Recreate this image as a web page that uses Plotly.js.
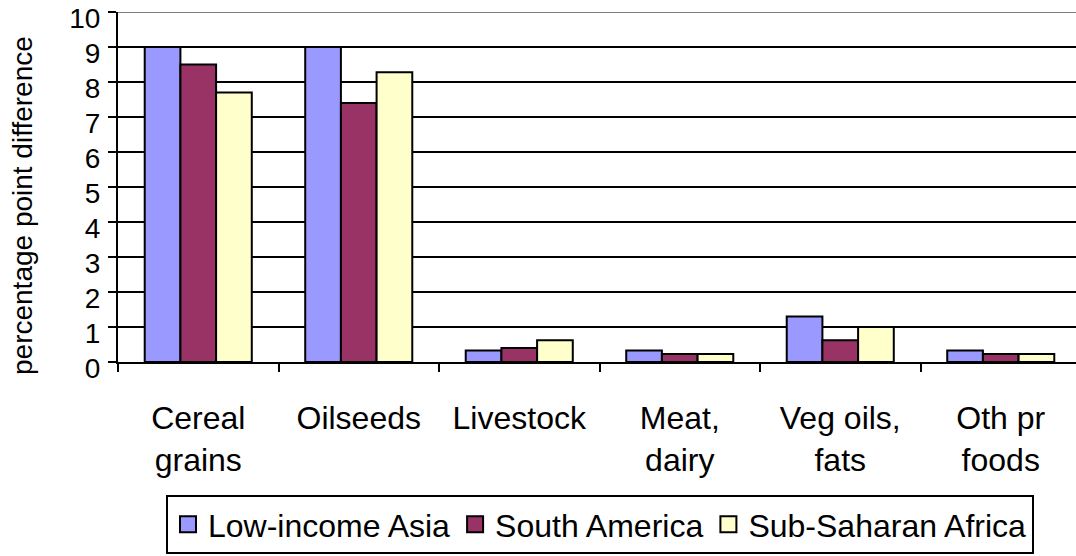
<!DOCTYPE html>
<html>
<head>
<meta charset="utf-8">
<script src="https://cdn.plot.ly/plotly-3.0.1.min.js"></script>
<style>
  html, body { margin: 0; padding: 0; background: #ffffff; }
  #chart { width: 1076px; height: 556px; }
</style>
</head>
<body>
<div id="chart"></div>
<script>
// ---- data ----
const categories = ["Cereal<br>grains", "Oilseeds", "Livestock", "Meat,<br>dairy", "Veg oils,<br>fats", "Oth pr<br>foods"];
const seriesNames = ["Low-income Asia", "South America", "Sub-Saharan Africa"];
const lowIncomeAsia = [9.0, 9.0, 0.33, 0.33, 1.3, 0.33];
const southAmerica = [8.5, 7.4, 0.4, 0.23, 0.62, 0.23];
const subSaharanAfrica = [7.7, 8.28, 0.62, 0.23, 1.0, 0.23];
const yTicks = [0, 1, 2, 3, 4, 5, 6, 7, 8, 9, 10];
const yTitle = "percentage point difference";

const seriesValues = [lowIncomeAsia, southAmerica, subSaharanAfrica];
const seriesColors = ["#9999FF", "#993366", "#FFFFCC"];
const FONT = "Liberation Sans, Arial, sans-serif";

const idx = categories.map((c, i) => i);
const traces = seriesNames.map((name, k) => ({
  type: "bar",
  name: name,
  x: idx,
  y: seriesValues[k],
  marker: { color: seriesColors[k], line: { color: "#000000", width: 2 } },
  showlegend: false,
  hoverinfo: "x+y+name"
}));

// legend entries (square swatches like the original)
seriesNames.forEach((name, k) => {
  traces.push({
    type: "scatter", mode: "markers", name: name,
    x: [null], y: [null],
    marker: { symbol: "square", size: 16, color: seriesColors[k], line: { color: "#000000", width: 2 } },
    showlegend: true, hoverinfo: "skip"
  });
});

// invisible trace to activate the boundary-tick axis
traces.push({ type: "scatter", x: [0], y: [0], xaxis: "x2", yaxis: "y",
  mode: "markers", marker: { opacity: 0 }, showlegend: false, hoverinfo: "skip" });

const layout = {
  width: 1076,
  height: 556,
  margin: { l: 118, r: 0, t: 12, b: 194, pad: 0 },
  paper_bgcolor: "#ffffff",
  plot_bgcolor: "#ffffff",
  font: { family: FONT, color: "#000000" },
  barmode: "group",
  bargap: 0.333,
  bargroupgap: 0,
  showlegend: true,
  legend: {
    orientation: "h",
    x: 0.0501, xanchor: "left",
    y: -0.5486, yanchor: "bottom",
    bgcolor: "#ffffff",
    bordercolor: "#000000",
    borderwidth: 2,
    itemsizing: "trace",
    font: { family: FONT, size: 32, color: "#000000" },
    traceorder: "normal"
  },
  xaxis: {
    type: "linear",
    range: [-0.5, 5.4688],
    tickmode: "array",
    tickvals: idx,
    ticktext: categories,
    ticks: "",
    showgrid: false,
    zeroline: false,
    showline: true,
    linecolor: "#000000",
    linewidth: 2,
    tickfont: { family: FONT, size: 32, color: "#000000" },
    ticklabelstandoff: 27,
    fixedrange: true
  },
  xaxis2: {
    overlaying: "x",
    matches: "x",
    type: "linear",
    range: [-0.5, 5.4688],
    tickmode: "array",
    tickvals: [-0.5, 0.5, 1.5, 2.5, 3.5, 4.5, 5.5],
    ticktext: ["", "", "", "", "", "", ""],
    ticks: "outside",
    ticklen: 9,
    tickwidth: 2,
    tickcolor: "#000000",
    showgrid: false,
    zeroline: false,
    showline: false,
    side: "bottom",
    anchor: "y"
  },
  yaxis: {
    range: [0, 10.0005],
    tickmode: "array",
    tickvals: yTicks,
    ticktext: yTicks.map(String),
    ticks: "outside",
    ticklen: 8,
    tickwidth: 2,
    tickcolor: "#000000",
    showgrid: true,
    gridcolor: "#000000",
    gridwidth: 2,
    zeroline: false,
    showline: true,
    linecolor: "#000000",
    linewidth: 2,
    tickfont: { family: FONT, size: 28, color: "#000000" },
    ticklabelstandoff: 2,
    ticklabelshift: 6,
    fixedrange: true
  },
  annotations: [
    { text: yTitle, xref: "paper", yref: "paper", x: -0.1002, y: 0.4457,
      xanchor: "center", yanchor: "middle", textangle: -90, showarrow: false,
      font: { family: FONT, size: 28, color: "#000000" } }
  ],
  shapes: [
    { type: "line", xref: "paper", yref: "y", x0: 0, x1: 1, y0: 10, y1: 10,
      line: { color: "#808080", width: 2 }, layer: "above" }
  ]
};

Plotly.newPlot("chart", traces, layout, { displayModeBar: false, staticPlot: true });
</script>
</body>
</html>
